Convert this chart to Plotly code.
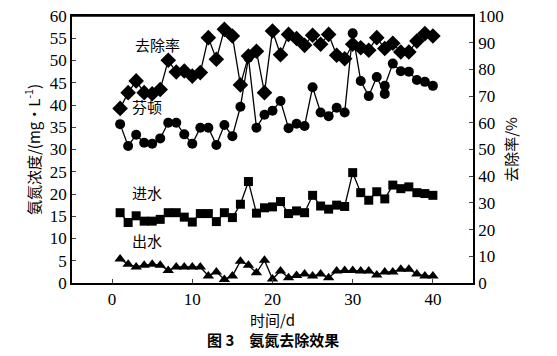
import plotly.graph_objects as go

days = list(range(1, 41))

removal_rate = [65.4, 71.3, 75.7, 71.3, 70.9, 72.5, 83.4, 79.0, 79.4, 77.5,
                78.8, 91.9, 83.8, 95.0, 92.5, 74.2, 85.0, 86.8, 71.3, 94.4,
                85.5, 93.1, 91.6, 89.0, 92.8, 89.4, 93.1, 85.3, 84.0, 89.4,
                88.1, 87.2, 91.9, 87.8, 89.8, 86.5, 86.5, 90.6, 93.4, 92.5]

fenton_days = list(range(1, 35)) + [34] + list(range(35, 41))
fenton = [35.7, 30.8, 33.3, 31.5, 31.3, 32.5, 36.0, 36.0, 33.4, 31.3,
          34.9, 34.9, 31.0, 35.5, 33.0, 39.6, 50.6, 34.9, 37.8, 38.7,
          40.9, 34.8, 35.8, 35.3, 44.0, 38.3, 37.5, 39.4, 38.3, 56.1,
          45.4, 42.0, 46.3, 42.5, 44.3, 49.3, 47.6, 47.5, 45.6, 45.2, 44.3]

influent = [15.8, 13.6, 15.1, 13.9, 13.9, 14.3, 15.8, 15.8, 14.8, 13.7,
            15.6, 15.6, 13.8, 15.8, 14.7, 17.7, 22.8, 15.7, 16.9, 17.1,
            18.3, 15.6, 16.2, 15.8, 19.7, 17.3, 16.6, 17.5, 17.2, 24.8,
            20.3, 18.6, 20.5, 18.9, 22.0, 21.2, 21.6, 20.3, 20.1, 19.7]

effluent = [5.4, 4.2, 3.6, 4.0, 4.2, 4.0, 2.8, 3.6, 3.6, 3.6,
            3.6, 1.6, 2.5, 0.8, 1.6, 4.9, 4.0, 2.3, 5.1, 0.9,
            2.7, 1.2, 1.7, 2.0, 1.6, 2.0, 1.2, 2.7, 2.8, 2.8,
            2.7, 2.7, 1.8, 2.5, 2.5, 3.1, 3.1, 2.0, 1.6, 1.6]

labels = ["去除率", "芬顿", "进水", "出水"]
label_x = [5.6, 4.4, 4.4, 4.4]
label_y = [53.7, 39.6, 20.4, 9.6]

NUM = "Liberation Serif, Times New Roman, serif"
CJK = "Noto Sans CJK SC"
line = dict(color="black", width=1.3)

fig = go.Figure()
fig.add_trace(go.Scatter(x=fenton_days, y=fenton, mode="lines+markers", line=line,
                         marker=dict(symbol="circle", size=10, color="black")))
fig.add_trace(go.Scatter(x=days, y=influent, mode="lines+markers", line=line,
                         marker=dict(symbol="square", size=9, color="black")))
fig.add_trace(go.Scatter(x=days, y=effluent, mode="lines+markers", line=line,
                         marker=dict(symbol="triangle-up", size=10, color="black")))
fig.add_trace(go.Scatter(x=days, y=removal_rate, mode="lines+markers", line=line,
                         marker=dict(symbol="diamond", size=12, color="black"),
                         yaxis="y2"))

for t, xx, yy in zip(labels, label_x, label_y):
    fig.add_annotation(x=xx, y=yy, xref="x", yref="y", text=t, showarrow=False,
                       font=dict(size=15, color="black", family=CJK))

fig.add_annotation(x=0.5, y=-0.21, xref="paper", yref="paper",
                   text="<b>图 3　氨氮去除效果</b>", showarrow=False,
                   font=dict(size=15, color="black", family=CJK),
                   yanchor="middle")

# top border of the frame
fig.add_shape(type="line", xref="paper", yref="paper", x0=0, x1=1, y0=1, y1=1,
              line=dict(color="black", width=1.5), layer="above")

fig.update_layout(
    width=549, height=348,
    margin=dict(l=64, r=84, t=8, b=73),
    paper_bgcolor="white", plot_bgcolor="white",
    showlegend=False,
    font=dict(family=NUM, size=17, color="black"),
    xaxis=dict(range=[-5, 45], tickvals=[0, 10, 20, 30, 40], ticks="inside", ticklen=4,
               showline=True, linecolor="black", linewidth=1.5, mirror=True,
               showgrid=False, zeroline=False, automargin=False,
               ticklabeloverflow="allow",
               tickfont=dict(family=NUM, size=17),
               title=dict(text="时间/d", standoff=6,
                          font=dict(size=15, family=CJK))),
    yaxis=dict(range=[0, 60], dtick=5, ticks="inside", ticklen=4,
               showline=True, linecolor="black", linewidth=1.5,
               showgrid=False, zeroline=False, automargin=False,
               ticklabeloverflow="allow",
               tickfont=dict(family=NUM, size=17),
               title=dict(text="氨氮浓度/(mg·L<sup>-1</sup>)", standoff=6,
                          font=dict(size=15, family=CJK))),
    yaxis2=dict(range=[0, 100], dtick=10, ticks="inside", ticklen=4,
                overlaying="y", side="right",
                showline=True, linecolor="black", linewidth=1.5,
                showgrid=False, zeroline=False, automargin=False,
                ticklabeloverflow="allow",
                tickfont=dict(family=NUM, size=17),
                title=dict(text="去除率/%", standoff=4,
                           font=dict(size=15, family=CJK))),
)

fig.write_html("out.html", config={"displayModeBar": False})
